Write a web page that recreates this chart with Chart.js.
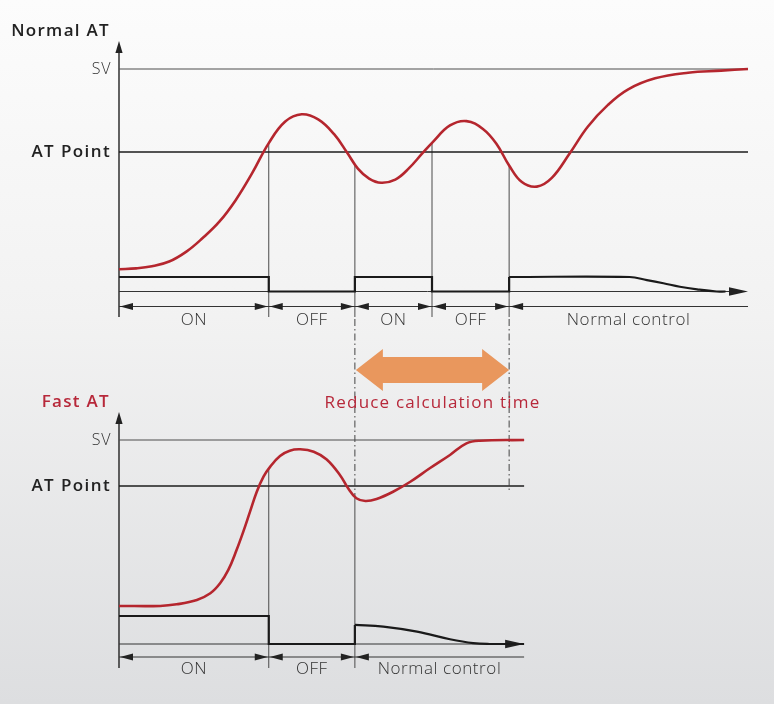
<!DOCTYPE html>
<html>
<head>
<meta charset="utf-8">
<title>Normal AT / Fast AT</title>
<script src="https://cdn.jsdelivr.net/npm/chart.js@4.4.0/dist/chart.umd.min.js"></script>
<style>
	html, body { margin: 0; padding: 0; }
	body {
		width: 774px; height: 704px; overflow: hidden;
		background: linear-gradient(to bottom, #fcfcfc 0%, #f2f2f2 45%, #dddee0 100%);
	}
	canvas { display: block; }
</style>
</head>
<body>
<canvas id="chart" width="774" height="704"></canvas>
<script>
// time axis in arbitrary units, shared by both diagrams
var timeMax = 84;
var svValue = 100;
var atValue = 60;

// Normal AT - process value
var normalT  = [0, 2.3, 4.4, 6.7, 9, 11.1, 13.4, 15.6, 17.8, 20, 22.2, 24.4, 26.6, 28.7, 30.5, 31.9, 33.4, 35, 36.9, 38.7, 40.5, 41.9, 44.2, 46.4, 48.6, 50.4, 52.1, 53.8, 55.8, 57.8, 60.2, 62.6, 65.3, 68, 71.6, 76, 80.4, 84];
var normalPV = [3.5, 3.9, 4.9, 7.2, 12, 18.3, 26.4, 36.9, 49.9, 64.3, 74.7, 78.2, 75.7, 68.7, 59.5, 52, 47.2, 45.2, 46.7, 52.1, 59.3, 64.8, 72.8, 74.9, 71.1, 64, 53.5, 45.5, 43.3, 47.5, 59.4, 72.2, 82.7, 90.2, 95.5, 98.2, 99.2, 100];
// Normal AT - output (1 = ON, 0 = OFF)
var normalSwitchT   = [0, 20, 31.5, 41.8, 52.1];
var normalSwitchOut = [1, 0, 1, 0, 1];
var normalTailT   = [52.1, 68.2, 70.5, 72.7, 74.9, 77.2, 79.8, 81];
var normalTailOut = [1, 1, 0.79, 0.57, 0.33, 0.15, 0, 0];
var normalPhases  = ['ON', 'OFF', 'ON', 'OFF', 'Normal control'];

// Fast AT - process value
var fastT  = [0, 5.5, 7.7, 10.4, 12.2, 13.5, 14.6, 15.7, 16.6, 17.5, 18.4, 19.3, 20.2, 21.5, 22.8, 24.2, 26, 27.7, 29.5, 30.6, 31.7, 32.9, 34.4, 36.6, 38.9, 41.5, 44.2, 46.4, 48.2, 54.1];
var fastPV = [-44.3, -44.3, -42.9, -39.1, -33.3, -24.6, -13, 4.3, 20.3, 37.7, 55, 68.1, 76.8, 86.1, 90.7, 91.9, 89.8, 83.2, 69.6, 58, 49.3, 47, 48.7, 55, 63.7, 75.4, 87, 97.1, 99.4, 100];
// Fast AT - output
var fastSwitchT   = [0, 20, 31.5];
var fastSwitchOut = [1, 0, 0.68];
var fastTailT   = [31.5, 35.3, 39.8, 44.2, 47.3, 49.5, 54.1];
var fastTailOut = [0.68, 0.62, 0.44, 0.17, 0.03, 0, 0];
var fastPhases  = ['ON', 'OFF', 'Normal control'];
var fastEnd = 54.1;

// time saved by Fast AT
var reducedSpan = [31.5, 52.1];

// layout (pixels)
var AREA = { top: 40, bottom: 644, left: 119, right: 748 };
var RED = '#b5262e';
var INK = '#222';

var panels = [
	{ id: 'A', title: 'Normal AT', titleColor: '#222', pvSet: 8, t: normalT, pv: normalPV, sw: normalSwitchT, phases: normalPhases, end: timeMax,
		tip: 41, bracket: 306.5, foot: 317, label: 320 },
	{ id: 'B', title: 'Fast AT', titleColor: '#b7283a', pvSet: 9, t: fastT, pv: fastPV, sw: fastSwitchT, phases: fastPhases, end: fastEnd,
		tip: 412, bracket: 657, foot: 668, label: 669 }
];

// min/max so that v0 sits at pixel p0 and v1 at pixel p1
function fit(v0, p0, v1, p1) {
	var k = (v1 - v0) / (p0 - p1);
	return { type: 'linear', display: false, min: v0 - (AREA.bottom - p0) * k, max: v0 + (p0 - AREA.top) * k };
}

function pts(xs, ys) {
	return xs.map(function(x, i) { return { x: x, y: ys[i] }; });
}

function steps(ts, vs) {
	var out = [];
	for (var i = 0; i < ts.length; i++) {
		if (i > 0) out.push({ x: ts[i], y: vs[i - 1] });
		out.push({ x: ts[i], y: vs[i] });
	}
	return out;
}

function hline(x0, x1, val, axis, color, width) {
	return { data: [{ x: x0, y: val }, { x: x1, y: val }], yAxisID: axis, borderColor: color, borderWidth: width, order: 2 };
}

function curve(xs, ys, axis, color, width) {
	return { data: pts(xs, ys), yAxisID: axis, borderColor: color, borderWidth: width, tension: 0.4, order: 0 };
}

var datasets = [
	hline(0, timeMax, svValue, 'pvA', '#4d4d4d', 1),
	hline(0, timeMax, atValue, 'pvA', '#1c1c1c', 1.6),
	hline(0, fastEnd, svValue, 'pvB', '#4d4d4d', 1),
	hline(0, fastEnd, atValue, 'pvB', '#1c1c1c', 1.6),
	{ data: steps(normalSwitchT, normalSwitchOut), yAxisID: 'outA', borderColor: '#1a1a1a', borderWidth: 2.2, order: 1 },
	curve(normalTailT, normalTailOut, 'outA', '#1a1a1a', 2.2),
	{ data: steps(fastSwitchT, fastSwitchOut), yAxisID: 'outB', borderColor: '#1a1a1a', borderWidth: 2.2, order: 1 },
	curve(fastTailT, fastTailOut, 'outB', '#1a1a1a', 2.2),
	curve(normalT, normalPV, 'pvA', RED, 2.6),
	curve(fastT, fastPV, 'pvB', RED, 2.6)
];

// pixel y of a drawn curve at time t
function curveY(chart, p, t) {
	var px = chart.scales.x.getPixelForValue(t);
	var line = chart.getDatasetMeta(p.pvSet).dataset;
	var hit = line && line.interpolate ? line.interpolate({ x: px }, 'x') : null;
	if (hit) return hit.y;
	for (var i = 1; i < p.t.length; i++) {
		if (t <= p.t[i]) {
			var f = (t - p.t[i - 1]) / (p.t[i] - p.t[i - 1]);
			return chart.scales['pv' + p.id].getPixelForValue(p.pv[i - 1] + f * (p.pv[i] - p.pv[i - 1]));
		}
	}
	return chart.scales['pv' + p.id].getPixelForValue(p.pv[p.pv.length - 1]);
}

function txt(ctx, s, x, y, font, color, align, spacing) {
	ctx.save();
	ctx.font = font;
	ctx.fillStyle = color;
	ctx.textAlign = align || 'center';
	ctx.textBaseline = 'middle';
	ctx.letterSpacing = (spacing || 0) + 'px';
	ctx.fillText(s, x, y);
	ctx.restore();
}

function tri(ctx, tx, ty, dir, len, half) {
	ctx.beginPath();
	ctx.moveTo(tx, ty);
	if (dir === 'up') { ctx.lineTo(tx - half, ty + len); ctx.lineTo(tx + half, ty + len); }
	if (dir === 'left') { ctx.lineTo(tx + len, ty - half); ctx.lineTo(tx + len, ty + half); }
	if (dir === 'right') { ctx.lineTo(tx - len, ty - half); ctx.lineTo(tx - len, ty + half); }
	ctx.closePath();
	ctx.fill();
}

function seg(ctx, x0, y0, x1, y1, color, width, dash) {
	ctx.save();
	ctx.strokeStyle = color;
	ctx.lineWidth = width;
	ctx.setLineDash(dash || []);
	ctx.beginPath();
	ctx.moveTo(x0, y0);
	ctx.lineTo(x1, y1);
	ctx.stroke();
	ctx.restore();
}

var decor = {
	id: 'decor',
	beforeDatasetsDraw: function(chart) {
		var ctx = chart.ctx, xs = chart.scales.x;
		panels.forEach(function(p) {
			var out = chart.scales['out' + p.id];
			var x0 = xs.getPixelForValue(0);
			var xe = xs.getPixelForValue(p.end);
			var yb = out.getPixelForValue(0);
			ctx.fillStyle = INK;

			// y axis with arrow
			seg(ctx, x0, p.tip + 8, x0, p.foot, INK, 1.4);
			tri(ctx, x0, p.tip, 'up', 12, 3.6);

			// time axis with arrow
			seg(ctx, x0, yb, xe - 12, yb, '#333', 1);
			tri(ctx, xe, yb, 'right', 19, 4.3);

			// switching points
			p.sw.slice(1).forEach(function(t) {
				var x = xs.getPixelForValue(t);
				seg(ctx, x, curveY(chart, p, t), x, p.foot, '#4a4a4a', 1);
			});

			// phase brackets
			var bounds = p.sw.concat([p.end]);
			seg(ctx, x0, p.bracket, xe, p.bracket, '#333', 1);
			for (var k = 0; k < p.phases.length; k++) {
				var a = xs.getPixelForValue(bounds[k]);
				var b = xs.getPixelForValue(bounds[k + 1]);
				tri(ctx, a + 1, p.bracket, 'left', 13, 3.6);
				if (k < p.phases.length - 1) tri(ctx, b - 1, p.bracket, 'right', 13, 3.6);
				txt(ctx, p.phases[k], (a + b) / 2, p.label, '300 17px "Open Sans"', '#333', 'center', 0.6);
			}
		});

		// dash-dot guides across both diagrams
		var pvB = chart.scales.pvB;
		reducedSpan.forEach(function(t) {
			var x = xs.getPixelForValue(t);
			var yEnd = Math.max(curveY(chart, panels[1], t), pvB.getPixelForValue(atValue) + 6);
			seg(ctx, x, panels[0].foot + 2, x, yEnd, '#444', 1, [7, 3, 1.5, 3]);
		});
	},
	afterDraw: function(chart) {
		var ctx = chart.ctx, xs = chart.scales.x;
		panels.forEach(function(p) {
			var pv = chart.scales['pv' + p.id];
			txt(ctx, p.title, 110, p.tip - 10, '600 17px "Open Sans"', p.titleColor, 'right', 1.3);
			txt(ctx, 'SV', 111, pv.getPixelForValue(svValue), '300 16px "Open Sans"', '#333', 'right', 0.6);
			txt(ctx, 'AT Point', 111, pv.getPixelForValue(atValue), '600 17px "Open Sans"', INK, 'right', 1.4);
		});

		// reduced time arrow
		var a = xs.getPixelForValue(reducedSpan[0]) + 1;
		var b = xs.getPixelForValue(reducedSpan[1]);
		var y = 370, body = 13, head = 21, len = 27;
		ctx.save();
		ctx.fillStyle = '#e9975d';
		ctx.beginPath();
		ctx.moveTo(a, y);
		ctx.lineTo(a + len, y - head);
		ctx.lineTo(a + len, y - body);
		ctx.lineTo(b - len, y - body);
		ctx.lineTo(b - len, y - head);
		ctx.lineTo(b, y);
		ctx.lineTo(b - len, y + head);
		ctx.lineTo(b - len, y + body);
		ctx.lineTo(a + len, y + body);
		ctx.lineTo(a + len, y + head);
		ctx.closePath();
		ctx.fill();
		ctx.restore();
		txt(ctx, 'Reduce calculation time', (a + b) / 2, 403, '500 17px "Open Sans"', '#b7283a', 'center', 1.2);
	}
};

new Chart(document.getElementById('chart'), {
	type: 'line',
	data: { datasets: datasets },
	options: {
		responsive: false,
		animation: false,
		events: [],
		layout: { padding: { left: AREA.left, right: 774 - AREA.right, top: AREA.top, bottom: 704 - AREA.bottom } },
		elements: { point: { radius: 0 }, line: { tension: 0, fill: false } },
		datasets: { line: { clip: false } },
		plugins: { legend: { display: false }, tooltip: { enabled: false } },
		scales: {
			x: { type: 'linear', display: false, min: 0, max: timeMax },
			pvA: fit(atValue, 152, svValue, 69),
			outA: fit(0, 291.5, 1, 277),
			pvB: fit(atValue, 486, svValue, 440),
			outB: fit(0, 644, 1, 616)
		}
	},
	plugins: [decor]
});
</script>
</body>
</html>
